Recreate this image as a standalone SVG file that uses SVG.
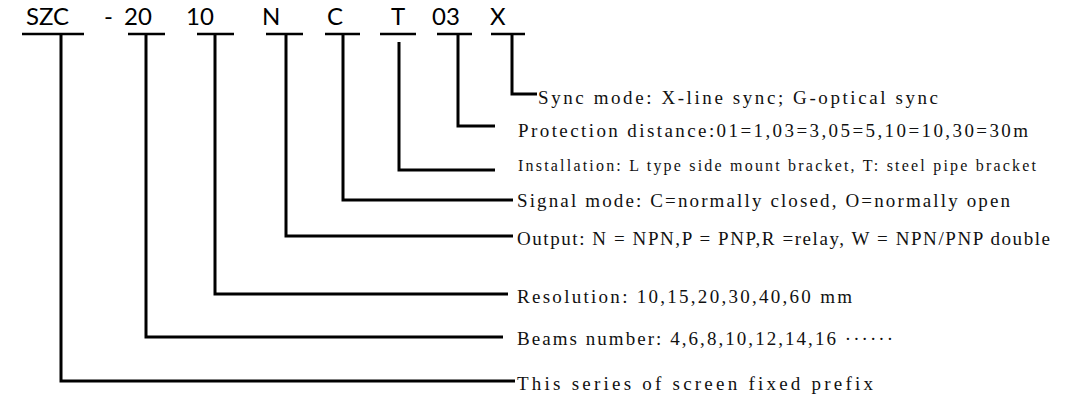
<svg xmlns="http://www.w3.org/2000/svg" width="1089" height="411" viewBox="0 0 1089 411">
<style>
.code{font-family:Lato,"Open Sans",sans-serif;font-size:24px;fill:#000}
.bar{stroke:#000;stroke-width:2.5;fill:none}
.conn{stroke:#000;stroke-width:3;fill:none;stroke-linejoin:miter}
.lbl{font-family:"Liberation Serif","Times New Roman",serif;font-size:19px;fill:#111}
.lbls{font-family:"Liberation Serif","Times New Roman",serif;font-size:16px;fill:#111}
</style>
<rect width="1089" height="411" fill="#fff"/>
<g id="code-SZC"><text class="code" x="26" y="25">SZC</text><line class="bar" x1="22" y1="34" x2="84" y2="34"/></g>
<g id="code-dash"><text class="code" x="104" y="25">-</text></g>
<g id="code-20"><text class="code" x="124" y="25">20</text><line class="bar" x1="128" y1="34" x2="165" y2="34"/></g>
<g id="code-10"><text class="code" x="186" y="25">10</text><line class="bar" x1="197" y1="34" x2="234" y2="34"/></g>
<g id="code-N"><text class="code" x="262" y="25">N</text><line class="bar" x1="266" y1="34" x2="303" y2="34"/></g>
<g id="code-C"><text class="code" x="327" y="25">C</text><line class="bar" x1="325" y1="34" x2="360" y2="34"/></g>
<g id="code-T"><text class="code" x="391" y="25">T</text><line class="bar" x1="380" y1="34" x2="416" y2="34"/></g>
<g id="code-03"><text class="code" x="432" y="25">03</text><line class="bar" x1="437" y1="34" x2="472" y2="34"/></g>
<g id="code-X"><text class="code" x="490" y="25">X</text><line class="bar" x1="491" y1="34" x2="525" y2="34"/></g>

<g id="connectors">
<path class="conn" d="M61,34 V381 H515"/>
<path class="conn" d="M146,34 V337 H503"/>
<path class="conn" d="M215,34 V294 H508"/>
<path class="conn" d="M286,34 V236 H513"/>
<path class="conn" d="M343,34 V200 H513"/>
<path class="conn" d="M399,42 V170 H495"/>
<path class="conn" d="M458,34 V126 H495"/>
<path class="conn" d="M512,34 V94 H537"/>
</g>

<g id="label-sync"><text class="lbl" x="538" y="104" textLength="400" lengthAdjust="spacing">Sync mode: X-line sync; G-optical sync</text></g>
<g id="label-protection"><text class="lbl" x="518" y="137" textLength="510" lengthAdjust="spacing">Protection distance:01=1,03=3,05=5,10=10,30=30m</text></g>
<g id="label-installation"><text class="lbls" x="518" y="171" textLength="518" lengthAdjust="spacing">Installation: L type side mount bracket, T: steel pipe bracket</text></g>
<g id="label-signal"><text class="lbl" x="517" y="207" textLength="493" lengthAdjust="spacing">Signal mode: C=normally closed, O=normally open</text></g>
<g id="label-output"><text class="lbl" x="517" y="245" textLength="533" lengthAdjust="spacing">Output: N = NPN,P = PNP,R =relay, W = NPN/PNP double</text></g>
<g id="label-resolution"><text class="lbl" x="517" y="303" textLength="335" lengthAdjust="spacing">Resolution: 10,15,20,30,40,60 mm</text></g>
<g id="label-beams"><text class="lbl" x="517" y="345" textLength="376" lengthAdjust="spacing">Beams number: 4,6,8,10,12,14,16 ······</text></g>
<g id="label-prefix"><text class="lbl" x="517" y="390" textLength="356" lengthAdjust="spacing">This series of screen fixed prefix</text></g>
</svg>
